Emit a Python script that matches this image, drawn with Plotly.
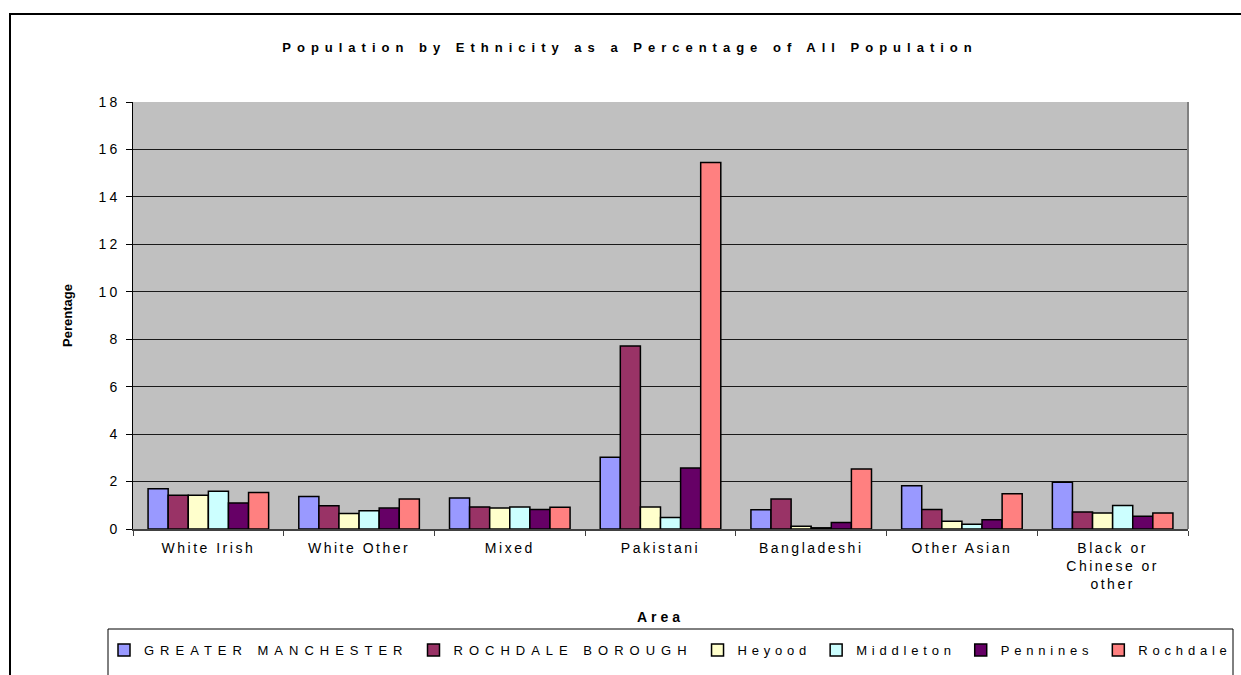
import plotly.graph_objects as go

# Ethnic groups (x categories) and their axis labels
categories = ["White Irish", "White Other", "Mixed", "Pakistani",
              "Bangladeshi", "Other Asian", "Black or Chinese or other"]
tick_labels = ["White Irish", "White Other", "Mixed", "Pakistani",
               "Bangladeshi", "Other Asian", "Black or<br>Chinese or<br>other"]

# Percentage of population, one list per area
greater_manchester = [1.70, 1.37, 1.31, 3.02, 0.81, 1.82, 1.97]
rochdale_borough = [1.42, 0.98, 0.93, 7.71, 1.26, 0.82, 0.72]
heyood = [1.42, 0.65, 0.88, 0.93, 0.12, 0.33, 0.67]
middleton = [1.59, 0.77, 0.93, 0.49, 0.05, 0.20, 0.99]
pennines = [1.10, 0.88, 0.82, 2.57, 0.27, 0.39, 0.54]
rochdale = [1.54, 1.26, 0.92, 15.45, 2.53, 1.49, 0.67]

series_names = ["GREATER MANCHESTER", "ROCHDALE BOROUGH", "Heyood",
                "Middleton", "Pennines", "Rochdale"]
series_values = [greater_manchester, rochdale_borough, heyood,
                 middleton, pennines, rochdale]
series_colors = ["#9999FF", "#993366", "#FFFFCC", "#CCFFFF", "#660066", "#FF8080"]
# letter spacing of each legend entry (capitals run wider)
legend_spacing = [6.0, 6.0, 4.8, 4.8, 4.8, 4.8]

y_ticks = list(range(0, 19, 2))

FONT = "Liberation Sans, Arial, sans-serif"

# Figure geometry (pixels)
W, H = 1241, 675
PL, PR, PT, PB = 133, 1188, 102, 529


def spaced(text, px):
    """Wrap each line of a label in a letter-spaced span."""
    lines = text.split("<br>")
    return "<br>".join(f'<span style="letter-spacing:{px}px">{ln}</span>' for ln in lines)


def px_x(x):
    return (x - PL) / (PR - PL)


def px_y(y):
    return (PB - y) / (PB - PT)


fig = go.Figure()
for name, vals, col, sp in zip(series_names, series_values, series_colors, legend_spacing):
    fig.add_trace(go.Bar(
        x=categories, y=vals, name=spaced(name, sp),
        marker=dict(color=col, line=dict(color="black", width=1.5)),
    ))

fig.update_layout(
    width=W, height=H,
    margin=dict(l=PL, r=W - PR, t=PT, b=H - PB, autoexpand=False),
    paper_bgcolor="white",
    plot_bgcolor="#C0C0C0",
    barmode="group", bargap=0.2, bargroupgap=0,
    font=dict(family=FONT, color="black", size=12),
    title=dict(
        text="<b>" + spaced("Population by Ethnicity as a Percentage of All Population", 6.0) + "</b>",
        x=630 / W, xref="container", xanchor="center",
        y=1 - 47 / H, yref="container", yanchor="middle",
        font=dict(family=FONT, size=13, color="black"),
    ),
    showlegend=True,
    legend=dict(
        orientation="h",
        x=px_x(104), xanchor="left",
        y=px_y(635), yanchor="top",
        bgcolor="rgba(0,0,0,0)", borderwidth=0,
        font=dict(family=FONT, size=13, color="black"),
        itemclick=False, itemdoubleclick=False,
        traceorder="normal",
    ),
    xaxis=dict(
        type="category",
        tickvals=categories,
        ticktext=[spaced(t, 2.5) for t in tick_labels],
        tickfont=dict(family=FONT, size=14, color="black"),
        ticks="outside", tickson="boundaries", ticklen=5,
        tickcolor="#404040", tickwidth=1,
        ticklabelstandoff=5,
        showline=True, linecolor="#404040", linewidth=2,
        showgrid=False, zeroline=False,
    ),
    yaxis=dict(
        range=[0, 18],
        tickvals=y_ticks,
        ticktext=[spaced(str(v), 3) for v in y_ticks],
        tickfont=dict(family=FONT, size=14, color="black"),
        ticks="outside", ticklen=6, tickcolor="black", tickwidth=1,
        ticklabelstandoff=3,
        showline=True, linecolor="black", linewidth=1,
        showgrid=True, gridcolor="#1a1a1a", gridwidth=1,
        zeroline=False,
    ),
)

# Axis titles
fig.add_annotation(
    text="<b>" + spaced("Area", 4) + "</b>",
    xref="paper", yref="paper", x=px_x(660), y=px_y(617),
    xanchor="center", yanchor="middle", showarrow=False,
    font=dict(family=FONT, size=14, color="black"),
)
fig.add_annotation(
    text="<b>Perentage</b>",
    xref="paper", yref="paper", x=px_x(67), y=px_y(316),
    xanchor="center", yanchor="middle", showarrow=False, textangle=-90,
    font=dict(family=FONT, size=13, color="black"),
)

# Chart frame, plot-area edge and legend box
fig.add_shape(type="rect", xref="paper", yref="paper",
              x0=px_x(10), x1=px_x(1300), y0=px_y(720), y1=px_y(14),
              line=dict(color="black", width=2), fillcolor="rgba(0,0,0,0)", layer="above")
fig.add_shape(type="line", xref="paper", yref="paper",
              x0=1, x1=1, y0=0, y1=1,
              line=dict(color="#808080", width=2), layer="above")
fig.add_shape(type="rect", xref="paper", yref="paper",
              x0=px_x(108), x1=px_x(1233), y0=px_y(720), y1=px_y(629),
              line=dict(color="black", width=1), fillcolor="rgba(0,0,0,0)", layer="above")

fig.write_html("out.html")
